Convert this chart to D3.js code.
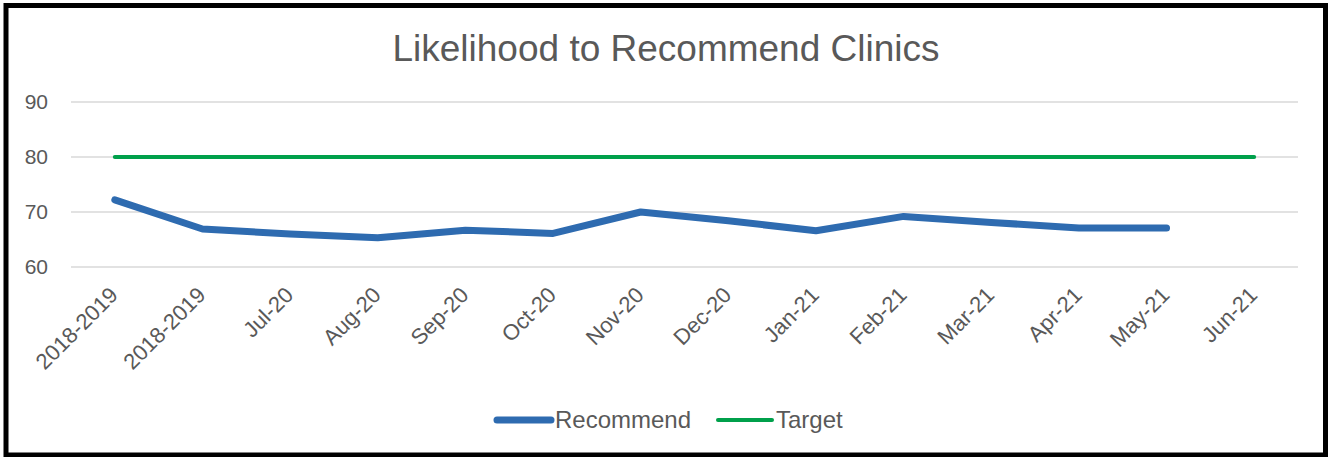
<!DOCTYPE html>
<html>
<head>
<meta charset="utf-8">
<script src="https://cdn.jsdelivr.net/npm/d3@7"></script>
<style>
  body { margin: 0; background: #fff; }
  text { font-family: "Liberation Sans", Arial, sans-serif; fill: #595959; }
</style>
</head>
<body>
<div id="chart"></div>
<script>
// chart data
var categories = ["2018-2019", "2018-2019 ", "Jul-20", "Aug-20", "Sep-20", "Oct-20", "Nov-20",
    "Dec-20", "Jan-21", "Feb-21", "Mar-21", "Apr-21", "May-21", "Jun-21"];
var recommend = [72.2, 66.9, 66.0, 65.3, 66.7, 66.1, 70.0, 68.4, 66.6, 69.2, 68.1, 67.1, 67.1, null];
var target = [80, 80, 80, 80, 80, 80, 80, 80, 80, 80, 80, 80, 80, 80];
var yTicks = [60, 70, 80, 90];

var W = 1328, H = 457;
var margin = {top: 102, right: 30, bottom: 190, left: 71};
var width = 1298 - margin.left;
var height = 267 - margin.top;

var svg = d3.select("#chart").append("svg")
    .attr("width", W)
    .attr("height", H);

// outer frame
svg.append("rect")
    .attr("x", 6).attr("y", 5.5)
    .attr("width", 1319.5).attr("height", 449.5)
    .attr("fill", "none")
    .attr("stroke", "#000")
    .attr("stroke-width", 5);

svg.append("text")
    .attr("x", 666).attr("y", 61)
    .attr("text-anchor", "middle")
    .style("font-size", "37px")
    .text("Likelihood to Recommend Clinics");

var g = svg.append("g")
    .attr("transform", "translate(" + margin.left + "," + margin.top + ")");

var x = d3.scaleBand()
    .domain(categories)
    .range([0, width]);

var y = d3.scaleLinear()
    .domain([60, 90])
    .range([height, 0]);

// gridlines
g.selectAll("line.grid")
    .data(yTicks)
    .enter().append("line")
    .attr("class", "grid")
    .attr("x1", 0).attr("x2", width)
    .attr("y1", function(d) { return y(d); })
    .attr("y2", function(d) { return y(d); })
    .attr("stroke", "#d9d9d9")
    .attr("stroke-width", 1.5);

var yAxis = g.append("g")
    .call(d3.axisLeft(y).tickValues(yTicks).tickSize(0).tickPadding(23));
yAxis.select(".domain").remove();
yAxis.selectAll("text").style("font-size", "21px").attr("fill", "#595959");

var xAxis = g.append("g")
    .attr("transform", "translate(0," + height + ")")
    .call(d3.axisBottom(x).tickSize(0).tickFormat(function(d) { return d.trim(); }));
xAxis.select(".domain").remove();
xAxis.selectAll("text")
    .style("font-size", "22px")
    .attr("fill", "#595959")
    .attr("text-anchor", "end")
    .attr("y", 0)
    .attr("dy", "0.35em")
    .attr("transform", "translate(-1,24) rotate(-45)");

var line = d3.line()
    .defined(function(d) { return d != null; })
    .x(function(d, i) { return x(categories[i]) + x.bandwidth() / 2; })
    .y(function(d) { return y(d); });

g.append("path")
    .datum(target)
    .attr("fill", "none")
    .attr("stroke", "#00a04b")
    .attr("stroke-width", 4)
    .attr("stroke-linecap", "round")
    .attr("d", line);

g.append("path")
    .datum(recommend)
    .attr("fill", "none")
    .attr("stroke", "#2e6bb0")
    .attr("stroke-width", 7)
    .attr("stroke-linecap", "round")
    .attr("stroke-linejoin", "round")
    .attr("d", line);

// legend
var legend = [
    {name: "Recommend", color: "#2e6bb0", w: 7, x: 497},
    {name: "Target", color: "#00a04b", w: 4, x: 718}
];
var lg = svg.selectAll("g.legend")
    .data(legend)
    .enter().append("g")
    .attr("class", "legend")
    .attr("transform", function(d) { return "translate(" + d.x + ",420)"; });
lg.append("line")
    .attr("x1", 0).attr("x2", 54)
    .attr("stroke", function(d) { return d.color; })
    .attr("stroke-width", function(d) { return d.w; })
    .attr("stroke-linecap", "round");
lg.append("text")
    .attr("x", 58).attr("dy", "0.35em")
    .style("font-size", "24px")
    .text(function(d) { return d.name; });
</script>
</body>
</html>
